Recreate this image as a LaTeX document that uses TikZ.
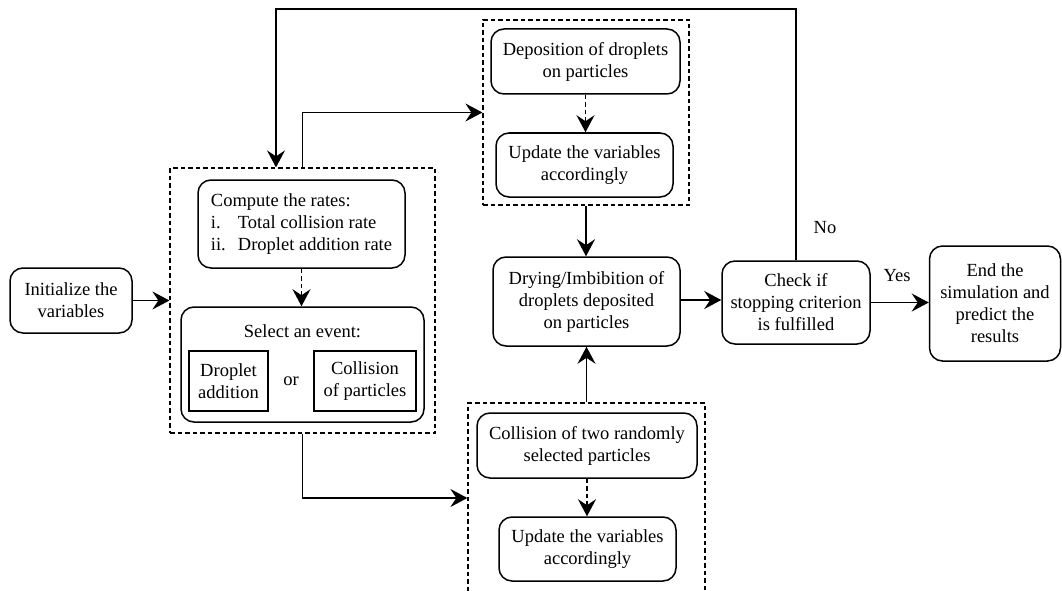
\documentclass[tikz,border=0pt]{standalone}
\usepackage{fontspec}
\setmainfont{Liberation Serif}
\usetikzlibrary{arrows.meta}
\begin{document}
\begin{tikzpicture}[x=1pt,y=-1pt,
  every node/.style={font=\fontsize{18.5}{22}\selectfont, inner sep=0pt, align=center},
  rbox/.style={draw, line width=1.5pt, rounded corners=13pt},
  sbox/.style={draw, line width=1.5pt},
  dbox/.style={draw, line width=1.2pt, dash pattern=on 4.5pt off 3pt},
  arr/.style={line width=1.9pt, -{Stealth[length=17pt,width=18pt,inset=6pt]}},
  darr/.style={line width=1.5pt, dash pattern=on 4.5pt off 3pt, -{Stealth[length=17pt,width=18pt,inset=6pt]}},
  lbl/.style={font=\fontsize{18.5}{22}\selectfont}
]
\useasboundingbox (0,0) rectangle (1062,591);

% nodes
\node[rbox, minimum width=122pt, minimum height=65pt] (init) at (71,300.5) {Initialize the\\variables};

\node[dbox, minimum width=265pt, minimum height=265pt] (leftdash) at (302.5,300.5) {};
\node[rbox, minimum width=207pt, minimum height=88pt, align=left] (compute) at (301.5,224)
  {Compute the rates:\\\makebox[27pt][l]{i.}Total collision rate\\\makebox[27pt][l]{ii.}Droplet addition rate};
\node[rbox, minimum width=243pt, minimum height=115pt] (select) at (302.5,364.5) {};
\node (selecttxt) at (302.5,331) {Select an event:};
\node[sbox, minimum width=79pt, minimum height=60pt] (droplet) at (228.5,381) {Droplet\\addition};
\node (or) at (291,381) {or};
\node[sbox, minimum width=102pt, minimum height=60pt] (collpart) at (365,381) {Collision\\of particles};

\node[dbox, minimum width=206pt, minimum height=185pt] (topdash) at (586,112.5) {};
\node[rbox, minimum width=189pt, minimum height=65pt] (depo) at (585.5,61.5) {Deposition of droplets\\on particles};
\node[rbox, minimum width=177pt, minimum height=64pt] (upd1) at (584.5,165) {Update the variables\\accordingly};

\node[rbox, minimum width=187pt, minimum height=89pt] (drying) at (586.5,301.5) {Drying/Imbibition of\\droplets deposited\\on particles};

\node[dbox, minimum width=237pt, minimum height=190pt] (botdash) at (586.5,498) {};
\node[rbox, minimum width=220pt, minimum height=65pt] (coll2) at (587,445.5) {Collision of two randomly\\selected particles};
\node[rbox, minimum width=177pt, minimum height=64pt] (upd2) at (587.5,549) {Update the variables\\accordingly};

\node[rbox, minimum width=148pt, minimum height=83pt] (check) at (796,302.5) {Check if\\stopping criterion\\is fulfilled};
\node[rbox, minimum width=131pt, minimum height=115pt] (end) at (995,303.5) {End the\\simulation and\\predict the\\results};

\node[lbl] (no) at (825,228) {No};
\node[lbl] (yes) at (897,276) {Yes};

\coordinate (topy) at (0,9);

% connectors
\draw[arr] (init.east) -- (init.east -| leftdash.west);
\draw[darr] (compute.south) -- (compute.south |- select.north);
\draw[darr] (depo.south) -- (depo.south |- upd1.north);
\draw[darr] (coll2.south) -- (coll2.south |- upd2.north);
\draw[arr] (topdash.south) -- (topdash.south |- drying.north);
\draw[arr] (botdash.north) -- (botdash.north |- drying.south);
\draw[arr] (drying.east |- 0,300) -- (check.west |- 0,300);
\draw[arr] (check.east) -- (check.east -| end.west);
\draw[arr] (leftdash.north) |- (topdash.west);
\draw[arr] (leftdash.south) |- (botdash.west);
\draw[arr] (check.north) -- (check.north |- topy) -| ([xshift=-26.5pt]leftdash.north);
\end{tikzpicture}
\end{document}
